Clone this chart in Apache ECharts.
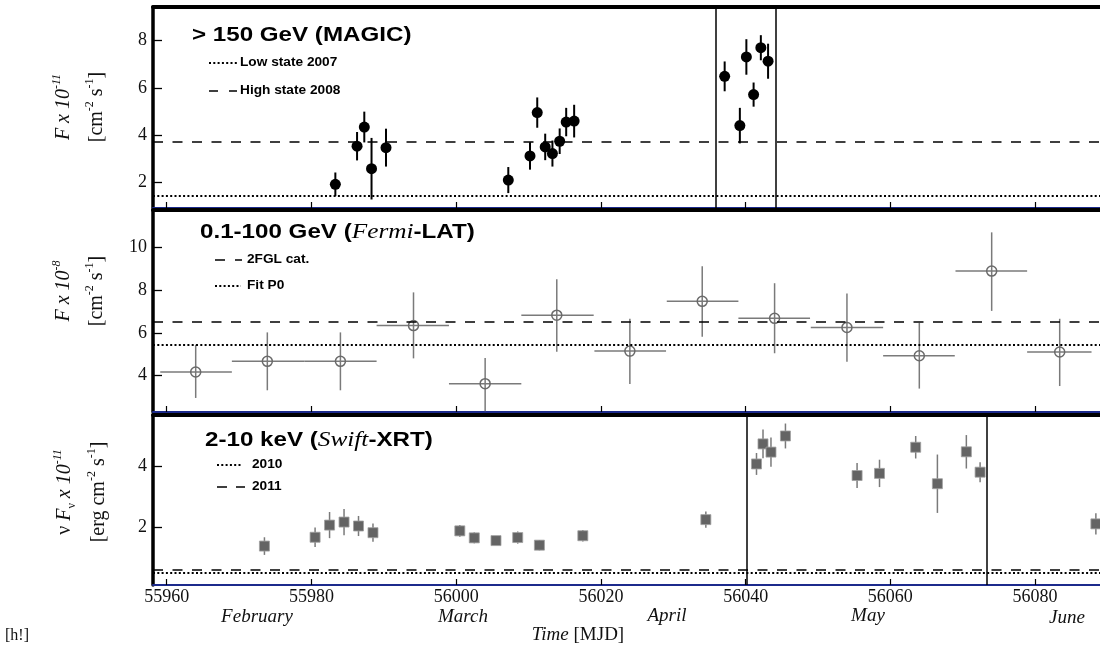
<!DOCTYPE html>
<html>
<head>
<meta charset="utf-8">
<script src="https://cdn.jsdelivr.net/npm/echarts@6/dist/echarts.min.js"></script>
<style>html,body{margin:0;padding:0;background:#fff}#c{width:1100px;height:650px}</style>
</head>
<body>
<div id="c"></div>
<script>
// ---------- data ----------
const xTicks = [55960, 55980, 56000, 56020, 56040, 56060, 56080];
const magicTicks = [2, 4, 6, 8];
const fermiTicks = [4, 6, 8, 10];
const xrtTicks = [2, 4];
const months = ['February', 'March', 'April', 'May', 'June'];

// MAGIC > 150 GeV (F x 1e-11 cm-2 s-1)
const magicMJD  = [55983.3, 55986.3, 55987.3, 55988.3, 55990.3, 56007.2, 56010.2, 56011.2, 56012.3, 56013.3, 56014.3, 56015.2, 56016.3, 56037.1, 56039.2, 56040.1, 56041.1, 56042.1, 56043.1];
const magicFlux = [1.93, 3.54, 4.35, 2.59, 3.48, 2.11, 3.13, 4.96, 3.51, 3.23, 3.75, 4.56, 4.60, 6.49, 4.41, 7.31, 5.72, 7.70, 7.13];
const magicErr  = [0.50, 0.60, 0.65, 1.30, 0.80, 0.55, 0.58, 0.64, 0.56, 0.55, 0.54, 0.60, 0.69, 0.63, 0.75, 0.75, 0.51, 0.53, 0.74];
const magicLow2007 = 1.44;
const magicHigh2008 = 3.72;
const magicWindow = [56035.8, 56044.1];

// Fermi-LAT 0.1-100 GeV (F x 1e-8 cm-2 s-1)
const fermiMJD   = [55964.0, 55973.9, 55984.0, 55994.1, 56004.0, 56013.9, 56024.0, 56034.0, 56044.0, 56054.0, 56064.0, 56074.0, 56083.4];
const fermiStart = [55959.1, 55969.0, 55979.0, 55989.0, 55999.0, 56009.0, 56019.1, 56029.1, 56039.0, 56049.0, 56059.0, 56069.0, 56078.9];
const fermiEnd   = [55969.0, 55979.0, 55989.0, 55999.0, 56009.0, 56019.0, 56029.0, 56039.0, 56048.9, 56059.0, 56068.9, 56078.9, 56087.8];
const fermiFlux  = [4.16, 4.66, 4.66, 6.34, 3.61, 6.83, 5.14, 7.48, 6.68, 6.25, 4.92, 8.90, 5.10];
const fermiUp    = [5.44, 6.02, 6.02, 7.90, 4.82, 8.52, 6.66, 9.13, 8.33, 7.85, 6.47, 10.72, 6.66];
const fermiLo    = [2.94, 3.30, 3.30, 4.80, 2.31, 5.11, 3.60, 5.81, 5.04, 4.64, 3.38, 7.03, 3.50];
const fermi2FGL = 6.52;
const fermiFitP0 = 5.45;

// Swift-XRT 2-10 keV (nuFnu x 1e-11 erg cm-2 s-1)
const xrtMJD  = [55973.5, 55980.5, 55982.5, 55984.5, 55986.5, 55988.5, 56000.5, 56002.5, 56005.5, 56008.5, 56011.5, 56017.5, 56034.5, 56041.5, 56042.4, 56043.5, 56045.5, 56055.4, 56058.5, 56063.5, 56066.5, 56070.5, 56072.4, 56088.4];
const xrtFlux = [1.37, 1.66, 2.06, 2.16, 2.03, 1.81, 1.87, 1.64, 1.55, 1.65, 1.40, 1.71, 2.24, 4.07, 4.73, 4.46, 4.99, 3.69, 3.76, 4.62, 3.42, 4.47, 3.80, 2.10];
const xrtErr  = [0.29, 0.32, 0.43, 0.43, 0.33, 0.30, 0.19, 0.18, 0.12, 0.20, 0.17, 0.19, 0.27, 0.36, 0.47, 0.48, 0.41, 0.41, 0.45, 0.37, 0.96, 0.55, 0.33, 0.35];
const xrt2010 = 0.485;
const xrt2011 = 0.605;
const xrtWindow = [56040.2, 56073.3];

// ---------- layout / style ----------
const X_MIN = 55958.1, X_MAX = 56088.97;
const NAVY = '#1c2a8c';
const SERIF = 'Liberation Serif';
const SANS = 'Liberation Sans';
const DOT = [2, 2.3];
const DASH = [10, 9.5];

const chart = echarts.init(document.getElementById('c'), null, {renderer: 'canvas'});

function xBottom(i) {
  return {
    gridIndex: i, type: 'value', min: X_MIN, max: X_MAX, position: 'bottom',
    axisLine: {show: true, onZero: false, lineStyle: {color: NAVY, width: 2}},
    axisTick: {show: true, inside: true, length: 6, customValues: xTicks, lineStyle: {color: '#000', width: 1.2}},
    axisLabel: {show: i === 2, customValues: xTicks, formatter: v => String(v), fontFamily: SERIF, fontSize: 18, color: '#111', margin: 3},
    splitLine: {show: false}
  };
}
function xTop(i) {
  return {
    gridIndex: i, type: 'value', min: X_MIN, max: X_MAX, position: 'top',
    axisLine: {show: true, onZero: false, lineStyle: {color: '#000', width: 4}},
    axisTick: {show: false}, axisLabel: {show: false}, splitLine: {show: false}
  };
}
function yAx(i, min, max, ticks) {
  return {
    gridIndex: i, type: 'value', min: min, max: max,
    axisLine: {show: true, onZero: false, lineStyle: {color: '#000', width: 3.5}},
    axisTick: {show: true, inside: true, length: 9, customValues: ticks, lineStyle: {color: '#000', width: 1.3}},
    axisLabel: {show: true, customValues: ticks, formatter: v => String(v), fontFamily: SERIF, fontSize: 18, color: '#111', margin: 6},
    splitLine: {show: false}
  };
}

function errSeries(gi, rows, color, width) {
  return {
    type: 'custom', xAxisIndex: gi, yAxisIndex: gi, clip: true, silent: true, z: 3,
    data: rows,
    renderItem: function (params, api) {
      const row = rows[params.dataIndex];
      const a = api.coord([row[0], row[2]]), b = api.coord([row[0], row[3]]);
      const ch = [{type: 'line', shape: {x1: a[0], y1: a[1], x2: b[0], y2: b[1]}, style: {stroke: color, lineWidth: width}}];
      if (row.length > 4) {
        const c = api.coord([row[4], row[1]]), d = api.coord([row[5], row[1]]);
        ch.push({type: 'line', shape: {x1: c[0], y1: c[1], x2: d[0], y2: d[1]}, style: {stroke: color, lineWidth: width}});
      }
      return {type: 'group', children: ch};
    }
  };
}

function refLines(hLines, vLines) {
  const data = [];
  hLines.forEach(h => data.push({yAxis: h[0], lineStyle: {color: '#000', width: h[1] === 'dot' ? 2 : 1.5, type: h[1] === 'dot' ? DOT : DASH, cap: 'butt'}}));
  vLines.forEach(v => data.push({xAxis: v, lineStyle: {color: '#000', width: 1.5, type: 'solid'}}));
  return {silent: true, symbol: ['none', 'none'], label: {show: false}, animation: false, data: data};
}

const magicRows = magicMJD.map((t, i) => [t, magicFlux[i], magicFlux[i] - magicErr[i], magicFlux[i] + magicErr[i]]);
const fermiRows = fermiMJD.map((t, i) => [t, fermiFlux[i], fermiLo[i], fermiUp[i], fermiStart[i], fermiEnd[i]]);
const xrtRows = xrtMJD.map((t, i) => [t, xrtFlux[i], xrtFlux[i] - xrtErr[i], xrtFlux[i] + xrtErr[i]]);

// ---------- text helpers ----------
function sansText(x, y, text, size, sx) {
  return {type: 'text', x: x, y: y, scaleX: sx, z: 10, silent: true,
    style: {text: text, fontFamily: SANS, fontWeight: 'bold', fontSize: size, fill: '#000', align: 'left', verticalAlign: 'middle'}};
}
function titleRich(x, y, text) {
  return {type: 'text', x: x, y: y, scaleX: 1.15, z: 10, silent: true,
    style: {text: text, align: 'left', verticalAlign: 'middle',
      rich: {
        b: {fontFamily: SANS, fontWeight: 'bold', fontSize: 21, fill: '#000', lineHeight: 26},
        it: {fontFamily: SERIF, fontStyle: 'italic', fontSize: 22, fill: '#000', lineHeight: 26}
      }}};
}
function sampleLine(x1, x2, y, kind, dash) {
  return {type: 'line', z: 10, silent: true, shape: {x1: x1, y1: y, x2: x2, y2: y},
    style: {stroke: '#000', lineWidth: kind === 'dot' ? 2 : 1.5, lineDash: dash}};
}
const richY = {
  i: {fontFamily: SERIF, fontStyle: 'italic', fontSize: 20, fill: '#111', lineHeight: 26},
  r: {fontFamily: SERIF, fontSize: 20, fill: '#111', lineHeight: 26},
  s: {fontFamily: SERIF, fontSize: 12, fill: '#111', verticalAlign: 'top', lineHeight: 14},
  si: {fontFamily: SERIF, fontStyle: 'italic', fontSize: 12, fill: '#111', verticalAlign: 'top', lineHeight: 14},
  sub: {fontFamily: SERIF, fontSize: 12, fill: '#111', verticalAlign: 'bottom', lineHeight: 12}
};
function yName(x, y, text) {
  return {type: 'text', x: x, y: y, rotation: Math.PI / 2, z: 10, silent: true,
    style: {text: text, align: 'center', verticalAlign: 'middle', rich: richY}};
}
function monthText(x, y, text) {
  return {type: 'text', x: x, y: y, z: 10, silent: true,
    style: {text: text, fontFamily: SERIF, fontStyle: 'italic', fontSize: 19, fill: '#111', align: 'center', verticalAlign: 'middle'}};
}

const graphics = [
  titleRich(192, 35, '{b|> 150 GeV (MAGIC)}'),
  sampleLine(209, 237, 63, 'dot', DOT),
  sansText(240, 63, 'Low state 2007', 12, 1.14),
  sampleLine(209, 237, 91, 'dash', [9, 11]),
  sansText(240, 91, 'High state 2008', 12, 1.14),

  titleRich(200, 232, '{b|0.1-100 GeV (}{it|Fermi}{b|-LAT)}'),
  sampleLine(215, 242, 260, 'dash', [10, 10]),
  sansText(247, 260, '2FGL cat.', 12, 1.14),
  sampleLine(215, 241, 286, 'dot', DOT),
  sansText(247, 286, 'Fit P0', 12, 1.14),

  titleRich(205, 440, '{b|2-10 keV (}{it|Swift}{b|-XRT)}'),
  sampleLine(217, 241, 465, 'dot', DOT),
  sansText(252, 465, '2010', 12, 1.14),
  sampleLine(217, 245, 487, 'dash', [10, 9]),
  sansText(252, 487, '2011', 12, 1.14),

  yName(64, 107, '{i|F x 10}{si|-11}'),
  yName(97, 107, '{r|[cm}{s|-2}{r| s}{s|-1}{r|]}'),
  yName(64, 291, '{i|F x 10}{si|-8}'),
  yName(97, 291, '{r|[cm}{s|-2}{r| s}{s|-1}{r|]}'),
  yName(65, 492, '{r|ν }{i|F}{sub|ν}{i| x 10}{si|-11}'),
  yName(99, 492, '{r|[erg cm}{s|-2}{r| s}{s|-1}{r|]}'),

  monthText(257, 617, months[0]),
  monthText(463, 617, months[1]),
  monthText(667, 616, months[2]),
  monthText(868, 616, months[3]),
  monthText(1067, 618, months[4]),
  {type: 'text', x: 578, y: 635, z: 10, silent: true,
    style: {text: '{i|Time} [MJD]', align: 'center', verticalAlign: 'middle', fontFamily: SERIF, fontSize: 19, fill: '#111',
      rich: {i: {fontFamily: SERIF, fontStyle: 'italic', fontSize: 19, fill: '#111'}}}},
  {type: 'text', x: 5, y: 636, z: 10, silent: true,
    style: {text: '[h!]', fontFamily: SERIF, fontSize: 16, fill: '#111', align: 'left', verticalAlign: 'middle'}}
];

const option = {
  animation: false,
  backgroundColor: '#fff',
  grid: [
    {left: 153, top: 7, right: 0, height: 201},
    {left: 153, top: 210, right: 0, height: 202},
    {left: 153, top: 415, right: 0, height: 170}
  ],
  xAxis: [xBottom(0), xBottom(1), xBottom(2), xTop(0), xTop(1), xTop(2)],
  yAxis: [yAx(0, 0.93, 9.42, magicTicks), yAx(1, 2.28, 11.77, fermiTicks), yAx(2, 0.09, 5.68, xrtTicks)],
  series: [
    errSeries(0, magicRows, '#000', 2),
    {type: 'scatter', xAxisIndex: 0, yAxisIndex: 0, symbol: 'circle', symbolSize: 11, z: 4, silent: true,
      itemStyle: {color: '#000', opacity: 1},
      data: magicMJD.map((t, i) => [t, magicFlux[i]]),
      markLine: refLines([[magicLow2007, 'dot'], [magicHigh2008, 'dash']], magicWindow)},
    errSeries(1, fermiRows, '#7a7a7a', 1.5),
    {type: 'scatter', xAxisIndex: 1, yAxisIndex: 1, symbol: 'circle', symbolSize: 10, z: 4, silent: true,
      itemStyle: {color: 'rgba(0,0,0,0)', borderColor: '#6a6a6a', borderWidth: 1.5, opacity: 1},
      data: fermiMJD.map((t, i) => [t, fermiFlux[i]]),
      markLine: refLines([[fermi2FGL, 'dash'], [fermiFitP0, 'dot']], [])},
    errSeries(2, xrtRows, '#7a7a7a', 1.5),
    {type: 'scatter', xAxisIndex: 2, yAxisIndex: 2, symbol: 'rect', symbolSize: 10, z: 4, silent: true,
      itemStyle: {color: '#646464', borderColor: '#a0a0a0', borderWidth: 0.8, opacity: 1},
      data: xrtMJD.map((t, i) => [t, xrtFlux[i]]),
      markLine: refLines([[xrt2010, 'dot'], [xrt2011, 'dash']], xrtWindow)}
  ],
  graphic: graphics
};
chart.setOption(option);
</script>
</body>
</html>
